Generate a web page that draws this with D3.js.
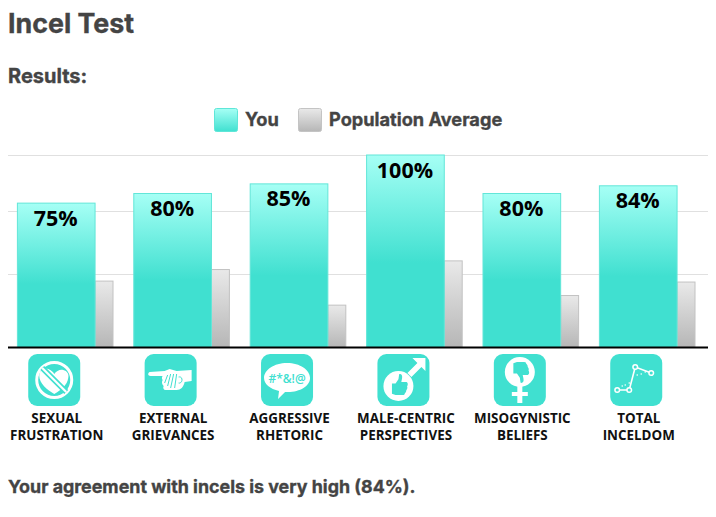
<!DOCTYPE html>
<html>
<head>
<meta charset="utf-8">
<script src="https://cdnjs.cloudflare.com/ajax/libs/d3/7.8.5/d3.min.js"></script>
<style>
  html, body { margin: 0; padding: 0; background: #fff; }
  svg { display: block; }
  .head { font-family: Inter, "Noto Sans", sans-serif; font-weight: 700; fill: #444; stroke: #444; stroke-width: 0.35px; }
  .cat { font-family: "Open Sans", sans-serif; font-weight: 700; font-size: 13.4px; fill: #111; text-anchor: middle; }
  .val { font-family: "Open Sans", sans-serif; font-weight: 700; font-size: 21.5px; fill: #000; text-anchor: middle; }
</style>
</head>
<body>
<div id="chart"></div>
<script>
const categories = ["SEXUAL|FRUSTRATION", "EXTERNAL|GRIEVANCES", "AGGRESSIVE|RHETORIC",
  "MALE-CENTRIC|PERSPECTIVES", "MISOGYNISTIC|BELIEFS", "TOTAL|INCELDOM"];
const icons = ["heart", "hand", "speech", "male", "female", "plot"];
const you = [75, 80, 85, 100, 80, 84];
const average = [34.5, 40.5, 22, 45, 27, 34];
const gridValues = [38, 71, 100];
const legendItems = ["You", "Population Average"];

const TEAL = "#40e0d0";
const width = 716, height = 517;
const baseline = 347.5;

const svg = d3.select("#chart").append("svg")
  .attr("width", width)
  .attr("height", height);

const defs = svg.append("defs");
function gradient(id, stops) {
  const g = defs.append("linearGradient").attr("id", id)
    .attr("x1", 0).attr("y1", 0).attr("x2", 0).attr("y2", 1);
  stops.forEach(s => g.append("stop").attr("offset", s[0]).attr("stop-color", s[1]));
}
gradient("gradYou", [[0, "#a6fff5"], [0.56, TEAL], [1, TEAL]]);
gradient("gradAvg", [[0, "#e9e9e9"], [1, "#b6b6b6"]]);
gradient("gradYouKey", [[0, "#a6fff5"], [1, TEAL]]);

// titles
svg.append("text").attr("class", "head").attr("x", 8).attr("y", 33)
  .style("font-size", "26.8px").text("Incel Test");
svg.append("text").attr("class", "head").attr("x", 8).attr("y", 83)
  .style("font-size", "20px").text("Results:");
svg.append("text").attr("class", "head").attr("x", 8).attr("y", 493)
  .style("font-size", "17.85px").text("Your agreement with incels is very high (84%).");

// legend
const legendX = d3.scaleOrdinal().domain(legendItems).range([214, 298]);
const legend = svg.selectAll("g.key").data(legendItems).join("g")
  .attr("class", "key")
  .attr("transform", d => `translate(${legendX(d)},108)`);
legend.append("rect")
  .attr("x", 0.5).attr("y", 0.5).attr("width", 23).attr("height", 23).attr("rx", 2)
  .attr("fill", (d, i) => i ? "url(#gradAvg)" : "url(#gradYouKey)")
  .attr("stroke", (d, i) => i ? "#c4c4c4" : "#5fe6d8");
legend.append("text").attr("class", "head")
  .attr("x", 31).attr("y", 17.5)
  .style("font-size", "18.2px")
  .text(d => d);

// scales
const x = d3.scaleBand().domain(categories).range([7, 705.4]).paddingInner(0.17).paddingOuter(0.085);
const y = d3.scaleLinear().domain([0, 100]).range([baseline, 155]);
const youW = x.bandwidth() * 0.804;
const avgW = x.bandwidth() - youW;

// grid
svg.append("g").selectAll("line").data(gridValues).join("line")
  .attr("x1", 8).attr("x2", 708)
  .attr("y1", d => Math.round(y(d)) + 0.5).attr("y2", d => Math.round(y(d)) + 0.5)
  .attr("stroke", "#e0e0e0").attr("stroke-width", 1.2);

const group = svg.selectAll("g.cat-group").data(categories).join("g")
  .attr("class", "cat-group")
  .attr("transform", d => `translate(${x(d)},0)`);

group.append("rect")
  .attr("x", youW + 0.5)
  .attr("y", (d, i) => y(average[i]))
  .attr("width", avgW - 1)
  .attr("height", (d, i) => baseline - y(average[i]))
  .attr("fill", "url(#gradAvg)").attr("stroke", "#c2c2c2");

group.append("rect")
  .attr("x", 0.5)
  .attr("y", (d, i) => y(you[i]))
  .attr("width", youW)
  .attr("height", (d, i) => baseline - y(you[i]))
  .attr("fill", "url(#gradYou)").attr("stroke", "#62e6d8");

group.append("text").attr("class", "val")
  .attr("x", youW / 2)
  .attr("y", (d, i) => y(you[i]) + 22.5)
  .text((d, i) => you[i] + "%");

// axis line
svg.append("line").attr("x1", 8).attr("x2", 708)
  .attr("y1", baseline).attr("y2", baseline)
  .attr("stroke", "#000").attr("stroke-width", 2);

// category labels
const label = group.append("text").attr("class", "cat");
label.append("tspan").attr("x", youW / 2 + 1).attr("y", 423).text(d => d.split("|")[0]);
label.append("tspan").attr("x", youW / 2 + 1).attr("y", 440).text(d => d.split("|")[1]);

// icons, drawn in a 52 box around the centre
const iconG = group.append("g")
  .attr("transform", `translate(${youW / 2 - 1.5},380)`);
iconG.append("rect")
  .attr("x", -26).attr("y", -26).attr("width", 52).attr("height", 52).attr("rx", 9)
  .attr("fill", TEAL);

const THUMB = "M-9,-2 L-4,-2 L0,-8 L1,-15 C4,-16 6,-13 5,-9 L4,-4 L11,-4 C14,-3 13,1 12,2 C13,4 12,6 11,7 C11,9 10,11 9,11 C9,13 8,14 6,14 L-4,14 L-9,12 Z";
const drawers = {
  heart(g) {
    g.append("path")
      .attr("d", "M0,14 C-7,10 -15,3 -15,-4 C-15,-10 -10,-12 -6,-11 C-3,-10 -1,-8 0,-6 C2,-9 6,-11 9,-10 C13,-9 15,-6 14,-2 C13,5 7,10 0,14 Z")
      .attr("fill", "#fff");
    g.append("circle").attr("r", 17.5).attr("fill", "none").attr("stroke", "#fff").attr("stroke-width", 3);
    g.append("line").attr("x1", -12).attr("y1", -12).attr("x2", 12).attr("y2", 12)
      .attr("stroke", TEAL).attr("stroke-width", 5.5);
    g.append("line").attr("x1", -12).attr("y1", -12).attr("x2", 12).attr("y2", 12)
      .attr("stroke", "#fff").attr("stroke-width", 2.2);
  },
  hand(g) {
    g.append("path")
      .attr("d", "M-21,-8 L-6,-9 L-1,-11 L6,-9 L21,-10 L21,1 L14,2 C13,7 10,10 6,10 L-5,10 C-7,10 -8,8 -7,6 C-9,4 -9,2 -8,0 C-9,-1 -9,-3 -8,-4 L-20,-4 C-23,-4 -23,-7 -21,-8 Z")
      .attr("fill", "#fff");
    g.append("path")
      .attr("d", "M-3,-5 L-6,3 M0,-6 L-3,6 M3,-6 L0,8 M6,-6 L4,8 M8,-3 C13,-4 12,4 8,3")
      .attr("fill", "none").attr("stroke", TEAL).attr("stroke-width", 1);
  },
  speech(g) {
    g.append("path")
      .attr("d", "M0,-17 C13,-17 23,-10 23,-2 C23,6 13,12 1,12 L-2,12 L-9,19 L-8,11 C-17,9 -23,4 -23,-2 C-23,-10 -13,-17 0,-17 Z")
      .attr("fill", "#fff");
    g.append("text").attr("text-anchor", "middle").attr("y", 3)
      .attr("font-family", "Open Sans, sans-serif").attr("font-size", 12).attr("font-weight", 600)
      .attr("fill", TEAL).text("#*&!@");
  },
  male(g) {
    g.append("path")
      .attr("d", "M9,-22 L22,-22 L22,-9 L18,-13 L8,-3 L4,-7 L14,-17 Z")
      .attr("fill", "#fff");
    g.append("circle").attr("cx", -5).attr("cy", 6).attr("r", 15).attr("fill", "#fff");
    g.append("g").attr("transform", "translate(-5,5) scale(0.72)")
      .append("path").attr("d", THUMB).attr("fill", TEAL);
  },
  female(g) {
    g.append("circle").attr("cy", -8).attr("r", 15).attr("fill", "#fff");
    g.append("path")
      .attr("d", "M-2.5,5 L2.5,5 L2.5,12 L8,12 L8,16 L2.5,16 L2.5,23 L-2.5,23 L-2.5,16 L-8,16 L-8,12 L-2.5,12 Z")
      .attr("fill", "#fff");
    g.append("g").attr("transform", "translate(0,-8) scale(0.72,-0.72)")
      .append("path").attr("d", THUMB).attr("fill", TEAL);
  },
  plot(g) {
    const pts = [[-19, 10], [-7, 10], [-1, -13], [15, -7]];
    g.append("path").attr("d", d3.line()(pts)).attr("fill", "none").attr("stroke", "#fff").attr("stroke-width", 1.6);
    g.selectAll("circle").data(pts).join("circle")
      .attr("cx", p => p[0]).attr("cy", p => p[1]).attr("r", 2.3)
      .attr("fill", TEAL).attr("stroke", "#fff").attr("stroke-width", 1.5);
    g.append("path").attr("d", "M-14,6 L-14,6 M-11,5 L-11,5 M-7,3 L-7,3 M1,-5 L1,-5 M5,-6 L5,-6 M9,-8 L9,-8")
      .attr("stroke", "#fff").attr("stroke-width", 1.6).attr("stroke-linecap", "round");
  }
};
iconG.each(function (d, i) { drawers[icons[i]](d3.select(this)); });
</script>
</body>
</html>
